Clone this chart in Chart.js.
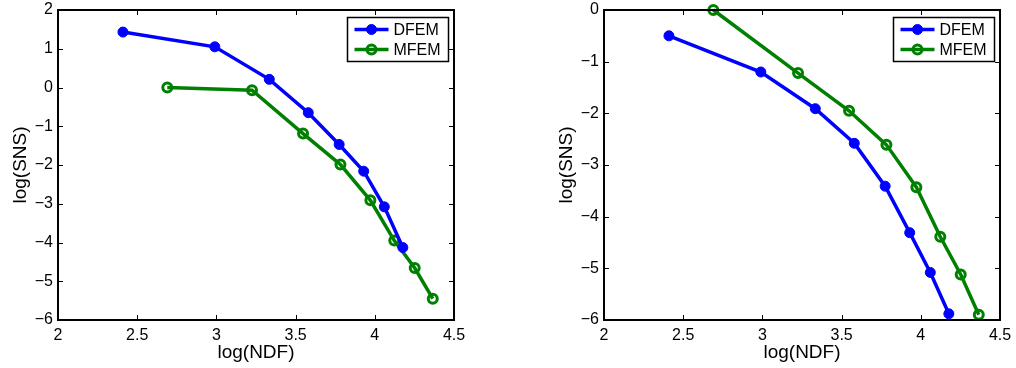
<!DOCTYPE html>
<html>
<head>
<meta charset="utf-8">
<script src="https://cdn.jsdelivr.net/npm/chart.js@4"></script>
<style>
  html, body { margin: 0; padding: 0; background: #fff; }
  .wrap { position: absolute; top: 0; height: 368px; }
</style>
</head>
<body>
<div class="wrap" style="left:0; width:508px"><canvas id="left" width="508" height="368"></canvas></div>
<div class="wrap" style="left:546px; width:470px"><canvas id="right" width="470" height="368"></canvas></div>
<script>
// x values (log NDF) shared by both panels
const dfemX = [2.41, 2.99, 3.334, 3.58, 3.775, 3.93, 4.06, 4.177];
const mfemX = [2.69, 3.225, 3.547, 3.783, 3.972, 4.123, 4.252, 4.366];

// left panel log(SNS)
const leftDfemY = [1.43, 1.05, 0.21, -0.65, -1.47, -2.16, -3.08, -4.13];
const leftMfemY = [0.0, -0.07, -1.19, -1.99, -2.91, -3.95, -4.66, -5.45];

// right panel log(SNS)
const rightDfemY = [-0.50, -1.20, -1.91, -2.58, -3.41, -4.31, -5.08, -5.88];
const rightMfemY = [0.0, -1.22, -1.95, -2.61, -3.43, -4.39, -5.12, -5.90];

const seriesNames = ['DFEM', 'MFEM'];
const xTicks = { min: 2, max: 4.5, step: 0.5 };
const leftYTicks = { min: -6, max: 2, step: 1 };
const rightYTicks = { min: -6, max: 0, step: 1 };

const FONT = '"Liberation Sans", Arial, Helvetica, sans-serif';
const BLUE = '#0000ff';
const GREEN = '#008000';

const toPoints = (xs, ys) => xs.map((x, i) => ({ x: x, y: ys[i] }));
const minus = (v) => String(v).replace('-', '\u2212');

// box around the axes + inward tick marks on all four sides + legend
const matlabAxes = {
  id: 'matlabAxes',
  afterDraw(chart) {
    const ctx = chart.ctx;
    const ca = chart.chartArea;
    const xs = chart.scales.x, ys = chart.scales.y;
    const L = Math.round(ca.left), R = Math.round(ca.right);
    const T = Math.round(ca.top), B = Math.round(ca.bottom);
    ctx.save();
    ctx.strokeStyle = '#000';
    ctx.lineWidth = 2;
    ctx.strokeRect(L, T, R - L, B - T);
    ctx.lineWidth = 1;
    ctx.beginPath();
    xs.ticks.forEach((t) => {
      const px = Math.round(xs.getPixelForValue(t.value)) + 0.5;
      ctx.moveTo(px, B); ctx.lineTo(px, B - 5);
      ctx.moveTo(px, T); ctx.lineTo(px, T + 5);
    });
    ys.ticks.forEach((t) => {
      const py = Math.round(ys.getPixelForValue(t.value)) + 0.5;
      ctx.moveTo(L, py); ctx.lineTo(L + 5, py);
      ctx.moveTo(R, py); ctx.lineTo(R - 5, py);
    });
    ctx.stroke();

    // legend box
    const bw = 101, bh = 44;
    const bx = Math.round(ca.right - 6 - bw) + 0.5, by = Math.round(ca.top + 7) + 0.5;
    ctx.fillStyle = '#fff';
    ctx.fillRect(bx, by, bw, bh);
    ctx.lineWidth = 1.5;
    ctx.strokeRect(bx, by, bw, bh);
    chart.data.datasets.forEach((ds, i) => {
      const yy = by + 12 + i * 20;
      ctx.strokeStyle = ds.borderColor;
      ctx.lineWidth = ds.borderWidth;
      ctx.beginPath();
      ctx.moveTo(bx + 7, yy); ctx.lineTo(bx + 41, yy);
      ctx.stroke();
      ctx.beginPath();
      ctx.arc(bx + 24, yy, ds.pointRadius, 0, Math.PI * 2);
      if (ds.pointBackgroundColor !== 'transparent') {
        ctx.fillStyle = ds.pointBackgroundColor;
        ctx.fill();
      }
      ctx.lineWidth = ds.pointBorderWidth;
      ctx.stroke();
      ctx.fillStyle = '#000';
      ctx.font = '16px ' + FONT;
      ctx.textBaseline = 'middle';
      ctx.textAlign = 'left';
      ctx.fillText(ds.label, bx + 46, yy + 1);
    });
    ctx.restore();
  }
};

function makeChart(id, dfemY, mfemY, yTicks, padRight) {
  return new Chart(document.getElementById(id), {
    type: 'scatter',
    data: {
      datasets: [
        {
          label: seriesNames[0],
          data: toPoints(dfemX, dfemY),
          showLine: true,
          borderColor: BLUE,
          borderWidth: 3.5,
          pointRadius: 5,
          pointBackgroundColor: BLUE,
          pointBorderColor: BLUE,
          pointBorderWidth: 1,
          clip: false,
        },
        {
          label: seriesNames[1],
          data: toPoints(mfemX, mfemY),
          showLine: true,
          borderColor: GREEN,
          borderWidth: 3.5,
          pointRadius: 4.5,
          pointBackgroundColor: 'transparent',
          pointBorderColor: GREEN,
          pointBorderWidth: 3,
          clip: false,
        },
      ],
    },
    options: {
      responsive: false,
      animation: false,
      layout: { padding: { top: 10, right: padRight, left: 0, bottom: 0 } },
      plugins: {
        legend: { display: false },
        tooltip: { enabled: false },
      },
      scales: {
        x: {
          type: 'linear',
          min: xTicks.min,
          max: xTicks.max,
          grid: { display: false, drawTicks: false },
          border: { display: false },
          ticks: {
            stepSize: xTicks.step,
            color: '#000',
            padding: 6,
            maxRotation: 0,
            font: { family: FONT, size: 16 },
            callback: (v) => String(v),
          },
          title: {
            display: true,
            text: 'log(NDF)',
            color: '#000',
            font: { family: FONT, size: 19 },
            padding: { top: 0, bottom: 4 },
          },
          afterFit: (scale) => {
            scale.height = 48;
            scale.paddingLeft = 0;
            scale.paddingRight = 0;
          },
        },
        y: {
          type: 'linear',
          min: yTicks.min,
          max: yTicks.max,
          grid: { display: false, drawTicks: false },
          border: { display: false },
          ticks: {
            stepSize: yTicks.step,
            color: '#000',
            padding: 5,
            font: { family: FONT, size: 16 },
            callback: (v) => minus(v),
          },
          title: {
            display: true,
            text: 'log(SNS)',
            color: '#000',
            font: { family: FONT, size: 19 },
            padding: { top: 9, bottom: 0 },
          },
          afterFit: (scale) => {
            scale.width = 58;
            scale.paddingTop = 0;
            scale.paddingBottom = 0;
          },
        },
      },
    },
    plugins: [matlabAxes],
  });
}

makeChart('left', leftDfemY, leftMfemY, leftYTicks, 54);
makeChart('right', rightDfemY, rightMfemY, rightYTicks, 16);
</script>
</body>
</html>
